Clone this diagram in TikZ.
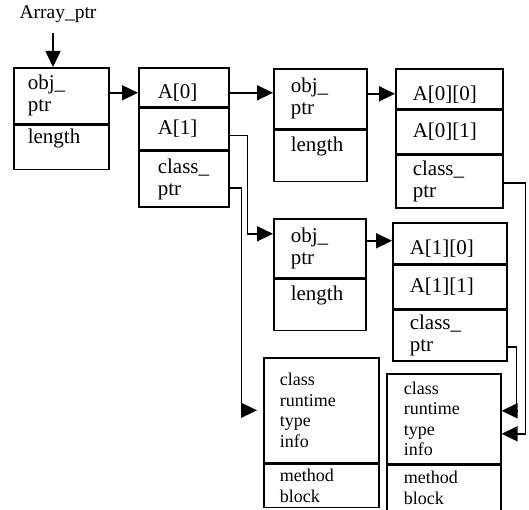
\documentclass[tikz,border=0pt]{standalone}
\usepackage{fontspec}
\setmainfont{Liberation Serif}
\usetikzlibrary{arrows.meta, positioning, calc}

\begin{document}
\begin{tikzpicture}[
  x=1pt, y=-1pt,
  cell/.style={rectangle, draw=black, line width=1.6pt, anchor=north west, align=left,
               inner ysep=0pt, font=\fontsize{21}{22}\selectfont},
  topc/.style={text height=26pt},
  lenc/.style={text depth=23pt},
  rtc/.style={cell, font=\fontsize{18}{20.5}\selectfont},
  ar/.style={-{Triangle[length=16pt, width=15pt]}, line width=1.6pt},
  lbl/.style={font=\fontsize{19.5}{20}\selectfont, inner sep=0pt}
]
\useasboundingbox (0,0) rectangle (529,510);

% ---------------------------------------------- the array header
\node[lbl] (aptr) at (58,14) {Array\_ptr};

\node[cell, inner xsep=14pt, text width=67pt, minimum height=56pt] (hd0ptr) at (13,67) {obj\_\\ptr};
\node[cell, lenc, inner xsep=14pt, text width=67pt, minimum height=44pt] (hd0len) at (hd0ptr.south west) {length};

% ---------------------------------------------- the array A
\node[cell, topc, inner xsep=19pt, text width=52pt, minimum height=39pt] (arrA0) at (138,67) {A[0]};
\node[cell, inner xsep=19pt, text width=52pt, minimum height=41pt] (arrA1) at (arrA0.south west) {A[1]};
\node[cell, inner xsep=19pt, text width=52pt, minimum height=56pt] (arrAcls) at (arrA1.south west) {class\_\\ptr};

% ---------------------------------------------- header and array of A[0]
\node[cell, inner xsep=17pt, text width=59pt, minimum height=60pt] (hd1ptr) at (273,68) {obj\_\\ptr};
\node[cell, lenc, inner xsep=17pt, text width=59pt, minimum height=51pt] (hd1len) at (hd1ptr.south west) {length};

\node[cell, topc, inner xsep=17pt, text width=73pt, minimum height=40pt] (arr00) at (395,68) {A[0][0]};
\node[cell, inner xsep=17pt, text width=73pt, minimum height=43pt] (arr01) at (arr00.south west) {A[0][1]};
\node[cell, inner xsep=17pt, text width=73pt, minimum height=53pt] (arr0cls) at (arr01.south west) {class\_\\ptr};

% ---------------------------------------------- header and array of A[1]
\node[cell, inner xsep=17pt, text width=58pt, minimum height=59pt] (hd2ptr) at (273,218) {obj\_\\ptr};
\node[cell, lenc, inner xsep=17pt, text width=58pt, minimum height=51pt] (hd2len) at (hd2ptr.south west) {length};

\node[cell, topc, inner xsep=17pt, text width=80pt, minimum height=41pt] (arr10) at (392,222) {A[1][0]};
\node[cell, inner xsep=17pt, text width=80pt, minimum height=43pt] (arr11) at (arr10.south west) {A[1][1]};
\node[cell, inner xsep=17pt, text width=80pt, minimum height=51pt] (arr1cls) at (arr11.south west) {class\_\\ptr};

% ---------------------------------------------- class runtime type info
\node[rtc, inner xsep=16pt, text width=83pt, minimum height=105pt] (rt0info) at (263,357) {class\\runtime\\type\\info};
\node[rtc, inner xsep=16pt, text width=83pt, minimum height=43pt] (rt0meth) at (rt0info.south west) {method\\block};

\node[rtc, inner xsep=17pt, text width=80pt, minimum height=90pt] (rt1info) at (386,373) {class\\runtime\\type\\info};
\node[rtc, inner xsep=17pt, text width=80pt, minimum height=45pt] (rt1meth) at (rt1info.south west) {method\\block};

% ---------------------------------------------- pointers
\draw[ar] ([xshift=-5pt, yshift=-10pt]aptr.south) -- ([xshift=-5pt]aptr.south |- hd0ptr.north);
\draw[ar] ([yshift=3pt]hd0ptr.east) -- ([yshift=3pt]hd0ptr.east -| arrA0.west);
\draw[ar] ([yshift=-5.5pt]arrA0.east) -- ([yshift=-5.5pt]arrA0.east -| hd1ptr.west);
\draw[ar] ([yshift=5pt]hd1ptr.east) -- ([yshift=5pt]hd1ptr.east -| arr00.west);
\draw[ar] ([yshift=7.5pt]hd2ptr.east) -- ([yshift=7.5pt]hd2ptr.east -| arr10.west);

\draw[ar] ([yshift=-6.5pt]arrA1.east) -- ++(18,0) |- ([yshift=14.5pt]hd2ptr.west);
\draw[ar, shorten >=6pt] ([yshift=-9pt]arrAcls.east) -- ++(12,0) |- (rt0info.west);
\draw[ar] ([yshift=-1.5pt]arr0cls.east) -- ++(22,0) |- ([yshift=-15pt]rt1info.east);
\draw[ar] ([yshift=-11.5pt]arr1cls.east) -- ++(9,0) |- ([yshift=8pt]rt1info.east);

\end{tikzpicture}
\end{document}
